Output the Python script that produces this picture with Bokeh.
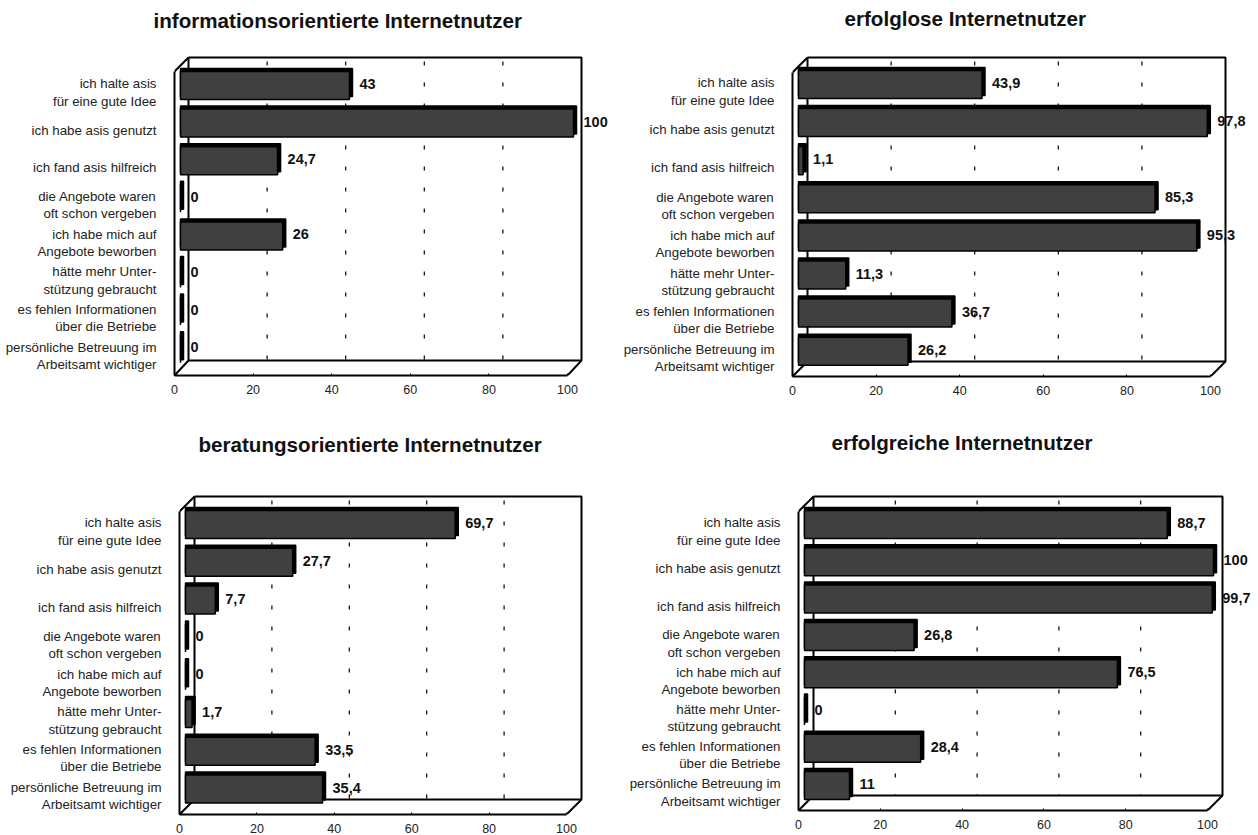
from bokeh.embed import file_html
from bokeh.resources import INLINE
from bokeh.layouts import column, row
from bokeh.models import FixedTicker, LinearAxis, Range1d, Title
from bokeh.plotting import figure
from bokeh.core.properties import value

categories = [
    "ich halte asis\nfür eine gute Idee",
    "ich habe asis genutzt",
    "ich fand asis hilfreich",
    "die Angebote waren\noft schon vergeben",
    "ich habe mich auf\nAngebote beworben",
    "hätte mehr Unter-\nstützung gebraucht",
    "es fehlen Informationen\nüber die Betriebe",
    "persönliche Betreuung im\nArbeitsamt wichtiger",
]
titles = [
    "informationsorientierte Internetnutzer",
    "erfolglose Internetnutzer",
    "beratungsorientierte Internetnutzer",
    "erfolgreiche Internetnutzer",
]
informationsorientiert = [43, 100, 24.7, 0, 26, 0, 0, 0]
erfolglos = [43.9, 97.8, 1.1, 85.3, 95.3, 11.3, 36.7, 26.2]
beratungsorientiert = [69.7, 27.7, 7.7, 0, 0, 1.7, 33.5, 35.4]
erfolgreich = [88.7, 100, 99.7, 26.8, 76.5, 0, 28.4, 11]
x_ticks = [0, 20, 40, 60, 80, 100]
grid_ticks = [20, 40, 60, 80]

FONT = "Liberation Sans"
TXT = "#222222"


def fmt(v):
    return f"{v:g}".replace(".", ",")


def panel(title, vals, cell, fl, fr, br, top, bb, fb, c0, pitch, title_x, gap):
    cx, cy, cw, ch = cell
    depth = br - fr
    sx = 100 / (fr - fl)
    frame_top = top - 4
    frame_right = cx + cw
    px_x = lambda px: (px - fl) * sx
    px_y = lambda py: (py - c0) / pitch

    p = figure(
        width=cw, height=ch,
        frame_width=frame_right - fl, frame_height=fb - frame_top,
        x_range=Range1d(0, px_x(frame_right)),
        y_range=Range1d(px_y(fb), px_y(frame_top)),
        x_axis_location=None, y_axis_location=None,
        output_backend="svg", toolbar_location=None,
        min_border_left=fl - cx, min_border_right=0,
        min_border_top=frame_top - cy, min_border_bottom=cy + ch - fb,
        outline_line_color=None,
    )
    p.grid.visible = False

    shift = 8.5 / pitch
    p.extra_y_ranges = {"labels": Range1d(px_y(fb) - shift, px_y(frame_top) - shift)}

    yaxis = LinearAxis(
        y_range_name="labels",
        ticker=FixedTicker(ticks=list(range(len(categories)))),
        major_label_overrides=dict(enumerate(categories)),
        major_tick_line_color=None, minor_tick_line_color=None,
        axis_line_color="black", axis_line_width=2,
        bounds=(px_y(top + depth) - shift, px_y(fb) - shift),
        major_label_standoff=12,
        major_label_text_font=FONT, major_label_text_font_size="13.3px",
        major_label_text_color=TXT, major_label_text_line_height=1.15,
    )
    p.add_layout(yaxis, "left")

    xaxis = LinearAxis(
        ticker=FixedTicker(ticks=x_ticks),
        bounds=(0, 100),
        major_tick_in=2, major_tick_out=0, major_tick_line_color="black",
        minor_tick_line_color=None,
        axis_line_color="black", axis_line_width=2,
        major_label_standoff=9,
        major_label_text_font=FONT, major_label_text_font_size="12.5px",
        major_label_text_color=TXT,
    )
    p.add_layout(xaxis, "below")

    # back wall, floor edges
    blx, brx, fxr = px_x(fl + depth), px_x(br), px_x(fr)
    yt, yb, yf, yft = px_y(top), px_y(bb), px_y(fb), px_y(top + depth)
    p.multi_line(
        xs=[[blx, brx, brx, blx, blx], [0, blx], [0, blx], [fxr, brx]],
        ys=[[yt, yt, yb, yb, yt], [yft, yt], [yf, yb], [yf, yb]],
        line_color="black", line_width=2,
    )

    # dashed grid on back wall
    gx = [t + px_x(fl + depth) for t in grid_ticks]
    p.segment(x0=gx, x1=gx, y0=[px_y(top + 4)] * 4, y1=[yb] * 4,
              line_color="black", line_width=1.2, line_dash="4 17")

    ys = list(range(len(vals)))
    start = px_x(fl + 6)
    side = 3 * sx
    band = 1.5 / pitch
    h = 28 / pitch
    p.hbar(y=[y - band for y in ys], left=[start] * 8,
           right=[v + start + side for v in vals], height=h,
           fill_color="black", line_color="black", line_width=1.5)
    p.hbar(y=[y + band for y in ys], left=[start] * 8,
           right=[v + start for v in vals], height=h,
           fill_color="#404040", line_color="black", line_width=1.5)
    p.text(x=[v + start + side + 7 * sx for v in vals], y=ys, text=[fmt(v) for v in vals],
           text_font=value(FONT), text_font_style="bold", text_font_size="14.5px",
           text_color="#111111", text_align="left", text_baseline="middle")

    # an empty title below the real one lifts it clear of the plot frame
    p.add_layout(Title(text=" ", standoff=gap, text_font_size="1px"), "above")
    p.title = Title(text=title, align="left", offset=title_x - fl,
                    text_font=FONT, text_font_style="bold", text_font_size="20.6px",
                    text_color="#111111", standoff=2)
    return p


CELLS = [(0, 0, 620, 418), (620, 0, 636, 418), (0, 418, 620, 430), (620, 418, 636, 430)]

tl = panel(titles[0], informationsorientiert, CELLS[0], 174, 567, 581, 57, 360, 375, 83.5, 37.6, 153, 18)
tr = panel(titles[1], erfolglos, CELLS[1], 791, 1209, 1224, 56, 360, 375, 81.5, 38.1, 843, 20)
bl = panel(titles[2], beratungsorientiert, CELLS[2], 179, 566, 581, 496, 799, 814, 522.5, 37.8, 198, 33)
br = panel(titles[3], erfolgreich, CELLS[3], 798, 1207, 1222, 494, 793, 808, 520.5, 37.3, 831, 35)

page = column(row(tl, tr, spacing=0), row(bl, br, spacing=0), spacing=0)
open("out.html", "w").write(file_html(page, INLINE))
